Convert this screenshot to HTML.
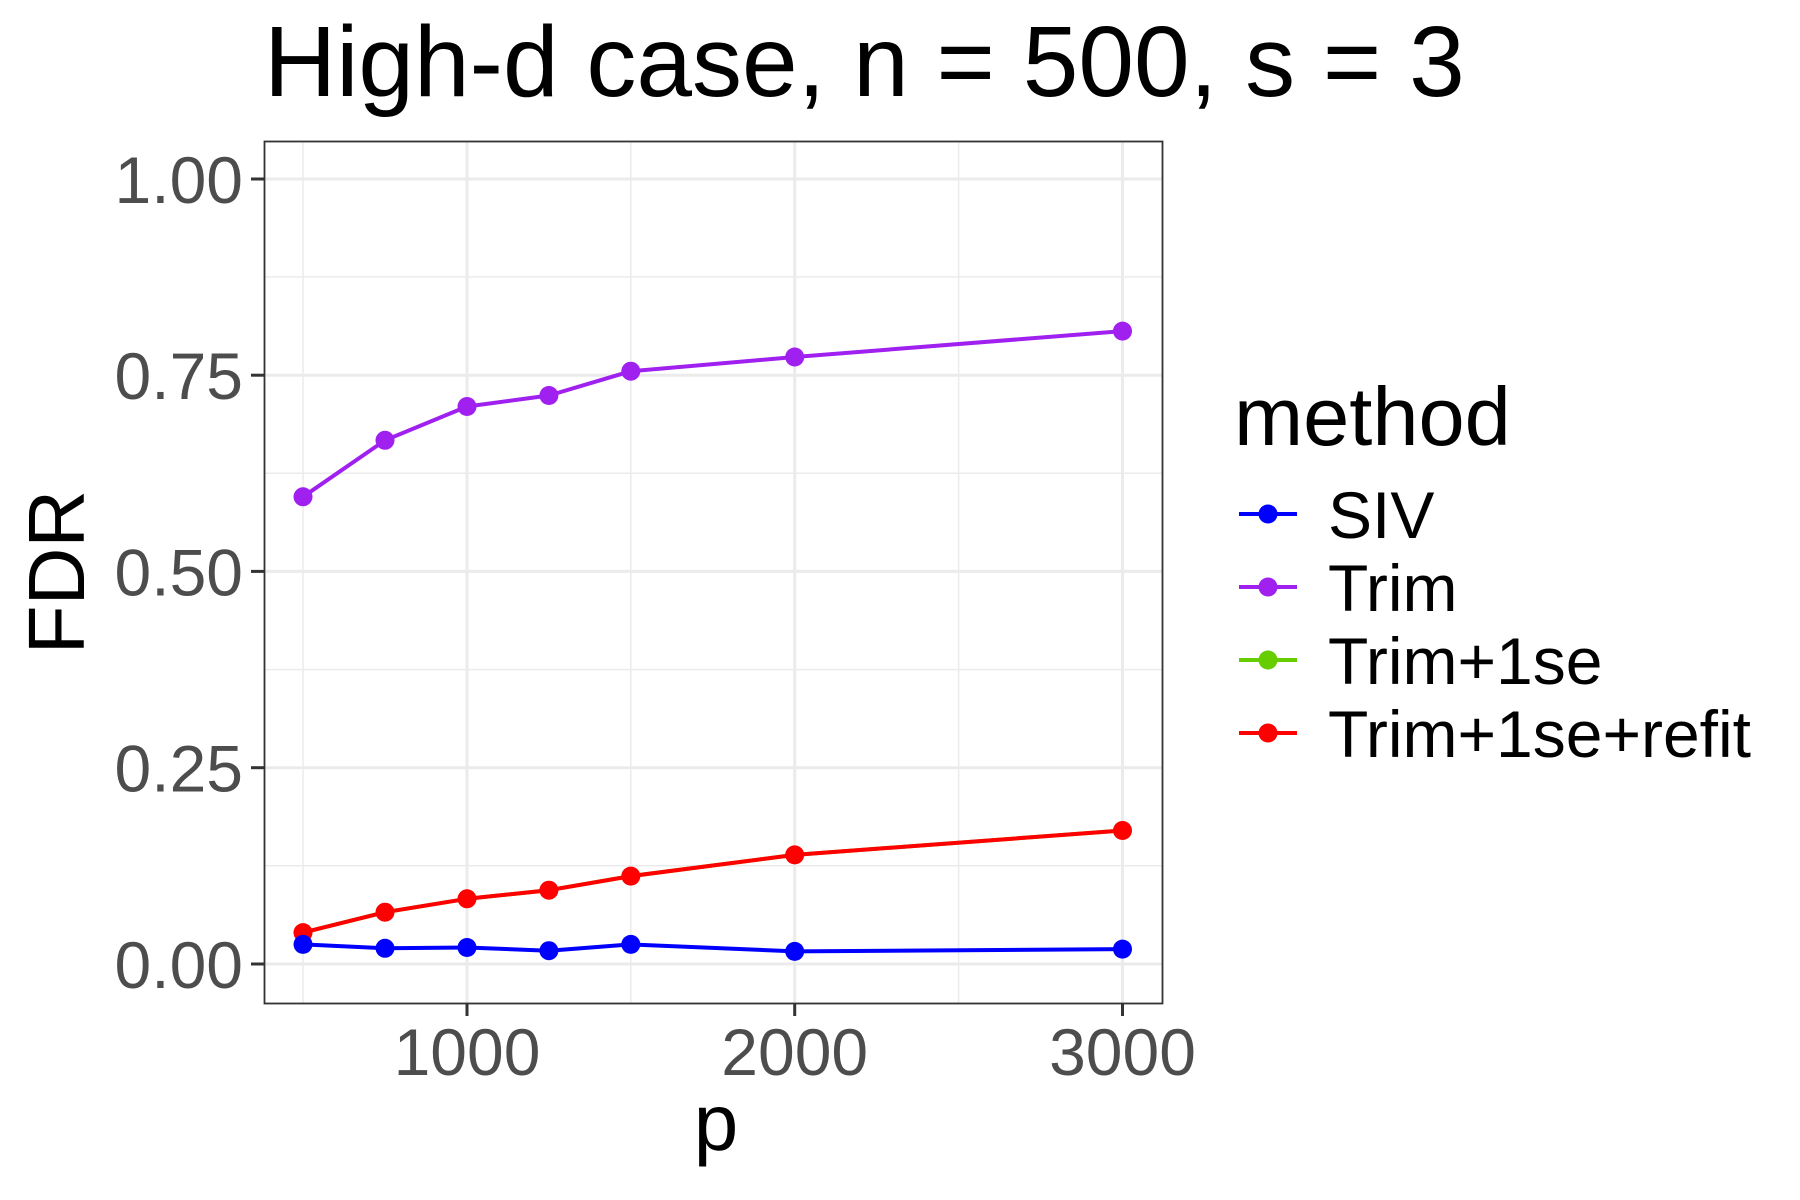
<!DOCTYPE html>
<html><head><meta charset="utf-8"><style>html,body{margin:0;padding:0;background:#fff}svg{display:block}</style></head>
<body>
<svg width="1800" height="1200" viewBox="0 0 1800 1200" xmlns="http://www.w3.org/2000/svg" font-family="Liberation Sans, sans-serif">
<rect width="1800" height="1200" fill="#fff"/>
<g stroke="#EBEBEB" stroke-width="1.5">
<line x1="264" x2="1163" y1="865.8" y2="865.8"/><line x1="264" x2="1163" y1="669.6" y2="669.6"/>
<line x1="264" x2="1163" y1="473.3" y2="473.3"/><line x1="264" x2="1163" y1="276.9" y2="276.9"/>
<line x1="303" x2="303" y1="141" y2="1003"/><line x1="630.8" x2="630.8" y1="141" y2="1003"/><line x1="958.6" x2="958.6" y1="141" y2="1003"/>
</g>
<g stroke="#EBEBEB" stroke-width="3">
<line x1="264" x2="1163" y1="964" y2="964"/><line x1="264" x2="1163" y1="767.7" y2="767.7"/>
<line x1="264" x2="1163" y1="571.4" y2="571.4"/><line x1="264" x2="1163" y1="375.2" y2="375.2"/>
<line x1="264" x2="1163" y1="179" y2="179"/>
<line x1="467" x2="467" y1="141" y2="1003"/><line x1="794.7" x2="794.7" y1="141" y2="1003"/><line x1="1122.5" x2="1122.5" y1="141" y2="1003"/>
</g>
<g fill="none" stroke-width="4" stroke-linejoin="round">
<polyline stroke="#A020F0" points="303,496.8 385,440.3 467,406.5 548.9,395.5 630.8,371.2 794.7,357 1122.5,331.1"/>
<polyline stroke="#66CD00" points="303,932.6 385,912.2 467,898.8 548.9,890.2 630.8,876.1 794.7,854.9 1122.5,830.5"/>
<polyline stroke="#FF0000" points="303,932.6 385,912.2 467,898.8 548.9,890.2 630.8,876.1 794.7,854.9 1122.5,830.5"/>
<polyline stroke="#0000FF" points="303,944.4 385,948.3 467,947.5 548.9,950.7 630.8,944.4 794.7,951.4 1122.5,949.1"/>
</g>
<g fill="#A020F0"><circle cx="303" cy="496.8" r="9.5"/><circle cx="385" cy="440.3" r="9.5"/><circle cx="467" cy="406.5" r="9.5"/><circle cx="548.9" cy="395.5" r="9.5"/><circle cx="630.8" cy="371.2" r="9.5"/><circle cx="794.7" cy="357" r="9.5"/><circle cx="1122.5" cy="331.1" r="9.5"/></g>
<g fill="#FF0000"><circle cx="303" cy="932.6" r="9.5"/><circle cx="385" cy="912.2" r="9.5"/><circle cx="467" cy="898.8" r="9.5"/><circle cx="548.9" cy="890.2" r="9.5"/><circle cx="630.8" cy="876.1" r="9.5"/><circle cx="794.7" cy="854.9" r="9.5"/><circle cx="1122.5" cy="830.5" r="9.5"/></g>
<g fill="#0000FF"><circle cx="303" cy="944.4" r="9.5"/><circle cx="385" cy="948.3" r="9.5"/><circle cx="467" cy="947.5" r="9.5"/><circle cx="548.9" cy="950.7" r="9.5"/><circle cx="630.8" cy="944.4" r="9.5"/><circle cx="794.7" cy="951.4" r="9.5"/><circle cx="1122.5" cy="949.1" r="9.5"/></g>
<rect x="264.5" y="141.5" width="898" height="862" fill="none" stroke="#333" stroke-width="1.8"/>
<g stroke="#333" stroke-width="3">
<line x1="251" x2="264" y1="964" y2="964"/><line x1="251" x2="264" y1="767.7" y2="767.7"/><line x1="251" x2="264" y1="571.4" y2="571.4"/><line x1="251" x2="264" y1="375.2" y2="375.2"/><line x1="251" x2="264" y1="179" y2="179"/>
<line x1="467" x2="467" y1="1004" y2="1016"/><line x1="794.7" x2="794.7" y1="1004" y2="1016"/><line x1="1122.5" x2="1122.5" y1="1004" y2="1016"/>
</g>
<g fill="#4D4D4D" font-size="66" text-anchor="end">
<text x="243" y="988">0.00</text><text x="243" y="791.7">0.25</text><text x="243" y="595.4">0.50</text><text x="243" y="399.2">0.75</text><text x="243" y="203">1.00</text>
</g>
<g fill="#4D4D4D" font-size="66" text-anchor="middle">
<text x="467" y="1075">1000</text><text x="794.7" y="1075">2000</text><text x="1122.5" y="1075">3000</text>
</g>
<text x="716" y="1150" font-size="80" text-anchor="middle" fill="#000">p</text>
<text transform="translate(84,572) rotate(-90)" font-size="80" text-anchor="middle" fill="#000">FDR</text>
<text x="264" y="96" font-size="100" fill="#000">High-d case, n = 500, s = 3</text>
<text x="1234" y="445" font-size="83" fill="#000">method</text>
<g stroke-width="4">
<line x1="1239" x2="1297" y1="514" y2="514" stroke="#0000FF"/><circle cx="1268" cy="514" r="9.5" fill="#0000FF"/>
<line x1="1239" x2="1297" y1="587" y2="587" stroke="#A020F0"/><circle cx="1268" cy="587" r="9.5" fill="#A020F0"/>
<line x1="1239" x2="1297" y1="660" y2="660" stroke="#66CD00"/><circle cx="1268" cy="660" r="9.5" fill="#66CD00"/>
<line x1="1239" x2="1297" y1="733" y2="733" stroke="#FF0000"/><circle cx="1268" cy="733" r="9.5" fill="#FF0000"/>
</g>
<g fill="#000" font-size="66">
<text x="1328" y="538">SIV</text><text x="1328" y="611">Trim</text><text x="1328" y="684">Trim+1se</text><text x="1328" y="757">Trim+1se+refit</text>
</g>
</svg>
</body></html>
